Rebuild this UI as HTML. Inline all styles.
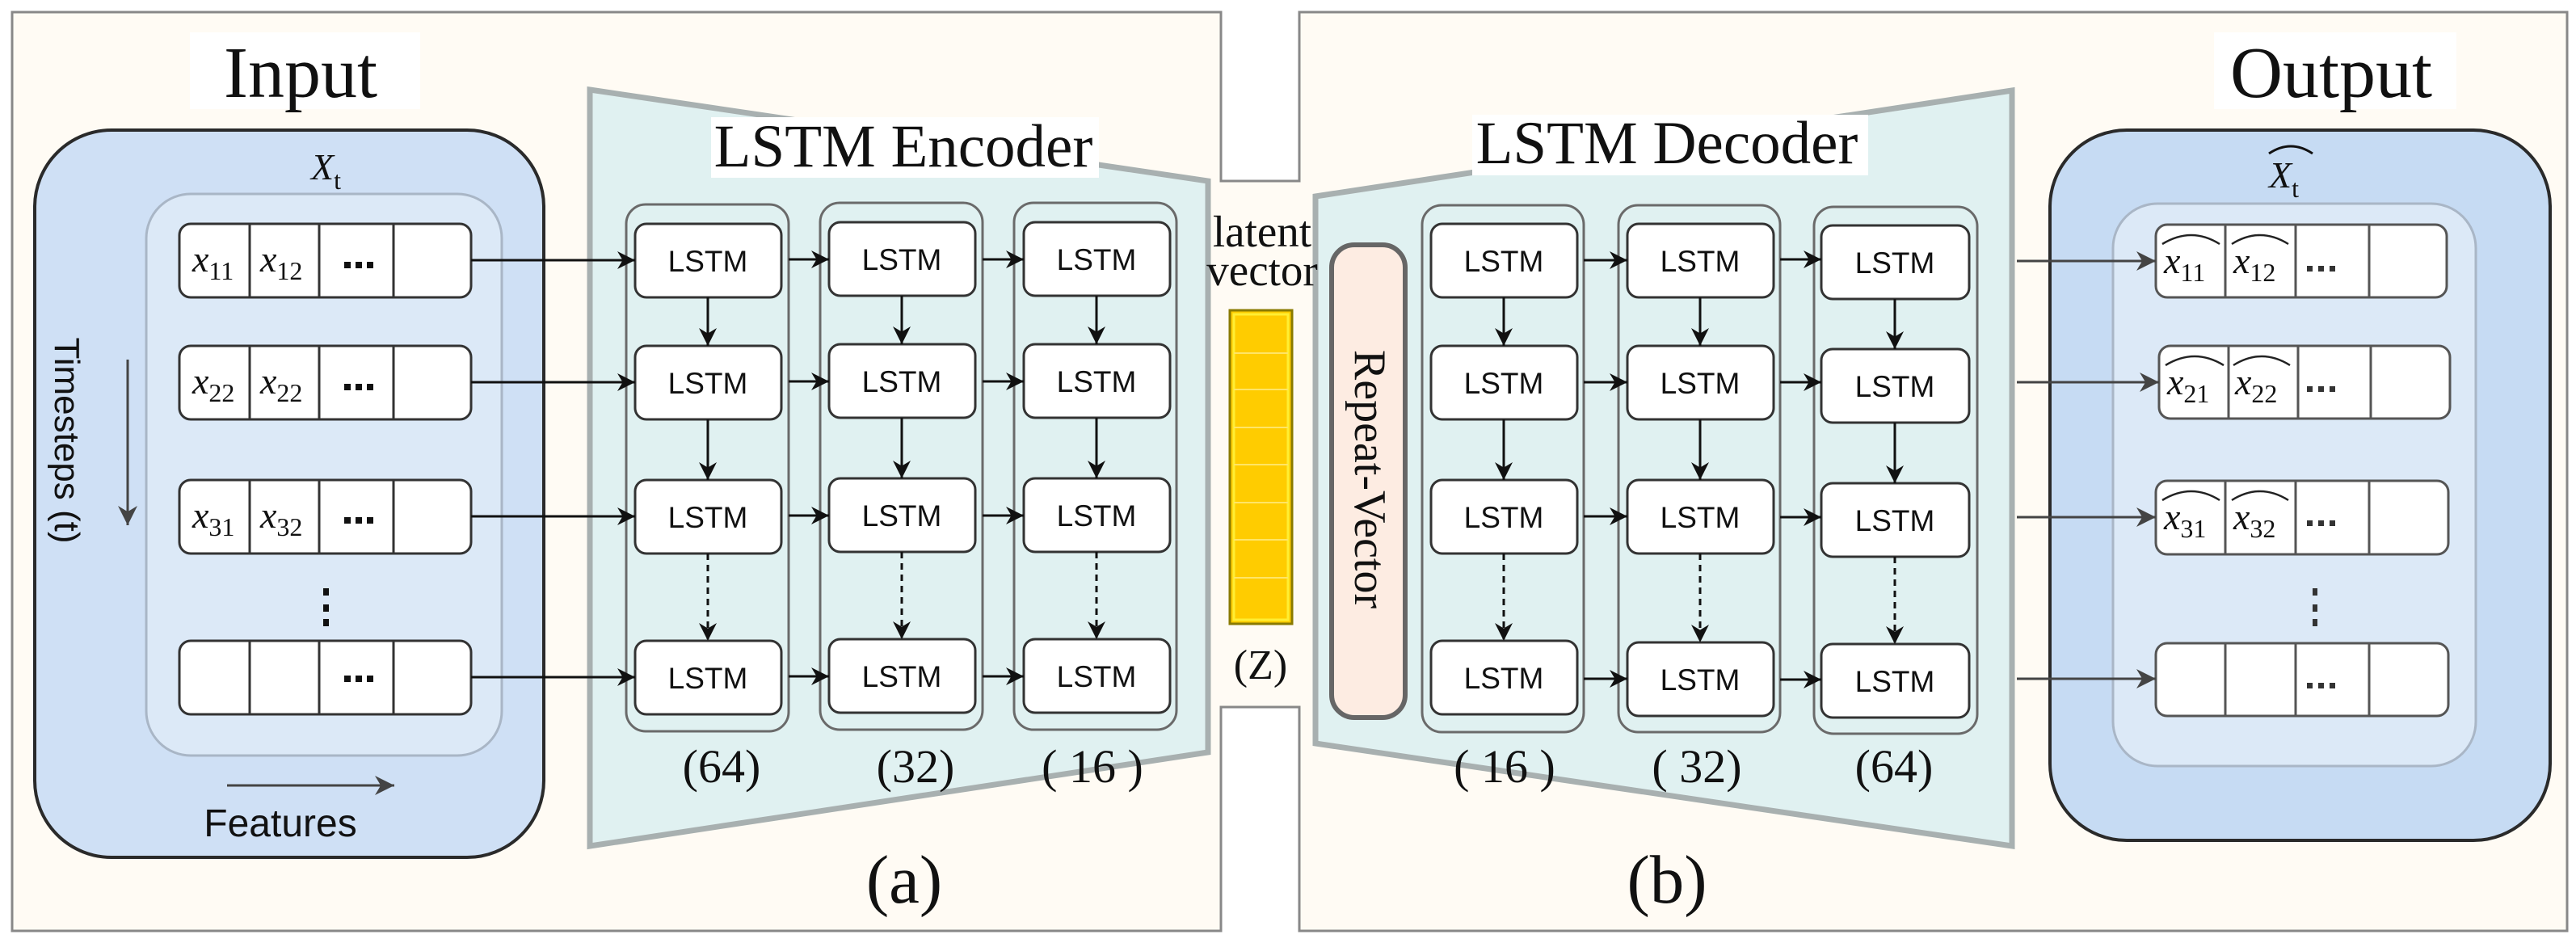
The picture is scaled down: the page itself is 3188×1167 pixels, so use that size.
<!DOCTYPE html>
<html><head><meta charset="utf-8"><style>
html,body{margin:0;padding:0;background:#fff;}
svg{display:block;}
.lstm{font-family:"Liberation Sans",sans-serif;font-size:37px;fill:#111;text-anchor:middle;}
.serif{font-family:"Liberation Serif",serif;fill:#111;}
.math{font-family:"Liberation Serif",serif;font-style:italic;font-size:46px;fill:#111;}
.sub{font-style:normal;font-size:32px;}
</style></head><body>
<svg width="3188" height="1167" viewBox="0 0 3188 1167" xmlns="http://www.w3.org/2000/svg">
<defs>
<marker id="ah" markerWidth="10" markerHeight="10" refX="9" refY="5" orient="auto" markerUnits="userSpaceOnUse" viewBox="0 0 10 10">
</marker>
<marker id="a" viewBox="0 0 10 10" refX="10" refY="5" markerWidth="22" markerHeight="22" markerUnits="userSpaceOnUse" orient="auto"><path d="M0,0 L10,5 L0,10 L3,5 z" fill="#111"/></marker>
<marker id="ag" viewBox="0 0 10 10" refX="10" refY="5" markerWidth="24" markerHeight="24" markerUnits="userSpaceOnUse" orient="auto"><path d="M0,0 L10,5 L0,10 L3,5 z" fill="#444"/></marker>
</defs>

<!-- panel frames -->
<path d="M15,15 H1511 V224 H1608 V15 H3177 V1152 H1608 V875 H1511 V1152 H15 Z" fill="#fffbf4" stroke="none"/>
<path d="M15,15 H1511 V224 H1608 V15 H3177 V1152 H1608 V875 H1511 V1152 H15 Z" fill="none" stroke="#888" stroke-width="3"/>

<!-- Input label -->
<rect x="235" y="40" width="285" height="95" fill="#fff"/>
<text x="372" y="120" class="serif" font-size="90" text-anchor="middle">Input</text>

<!-- Input box -->
<rect x="43" y="161" width="630" height="900" rx="95" fill="#cfe0f5" stroke="#2a2a2a" stroke-width="4"/>
<rect x="181" y="240" width="440" height="695" rx="55" fill="#dce9f7" stroke="#a9b6c6" stroke-width="3"/>
<text x="385" y="222" class="math" font-size="50">X<tspan class="sub" dy="12" font-style="italic" font-size="34">t</tspan></text>

<g stroke="#333" stroke-width="3" fill="#fff">
<rect x="222" y="277" width="361" height="91" rx="14"/>
<rect x="222" y="428" width="361" height="91" rx="14"/>
<rect x="222" y="594" width="361" height="91" rx="14"/>
<rect x="222" y="793" width="361" height="91" rx="14"/>
<path d="M309,277V368M395,277V368M487,277V368 M309,428V519M395,428V519M487,428V519 M309,594V685M395,594V685M487,594V685 M309,793V884M395,793V884M487,793V884" fill="none"/>
</g>
<text x="238" y="336" class="math">x<tspan class="sub" dy="10">11</tspan></text>
<text x="322" y="336" class="math">x<tspan class="sub" dy="10">12</tspan></text>
<text x="238" y="487" class="math">x<tspan class="sub" dy="10">22</tspan></text>
<text x="322" y="487" class="math">x<tspan class="sub" dy="10">22</tspan></text>
<text x="238" y="653" class="math">x<tspan class="sub" dy="10">31</tspan></text>
<text x="322" y="653" class="math">x<tspan class="sub" dy="10">32</tspan></text>
<g fill="#111">
<rect x="426" y="324" width="8" height="8"/><rect x="440" y="324" width="8" height="8"/><rect x="454" y="324" width="8" height="8"/>
<rect x="426" y="475" width="8" height="8"/><rect x="440" y="475" width="8" height="8"/><rect x="454" y="475" width="8" height="8"/>
<rect x="426" y="640" width="8" height="8"/><rect x="440" y="640" width="8" height="8"/><rect x="454" y="640" width="8" height="8"/>
<rect x="426" y="836" width="8" height="8"/><rect x="440" y="836" width="8" height="8"/><rect x="454" y="836" width="8" height="8"/>
<rect x="400" y="728" width="7" height="9"/><rect x="400" y="748" width="7" height="9"/><rect x="400" y="766" width="7" height="9"/>
</g>
<text transform="translate(68,545) rotate(90)" font-family="Liberation Sans,sans-serif" font-size="44" text-anchor="middle" fill="#111">Timesteps (t)</text>
<line x1="158" y1="445" x2="158" y2="650" stroke="#444" stroke-width="3" marker-end="url(#ag)"/>
<line x1="281" y1="972" x2="488" y2="972" stroke="#444" stroke-width="3" marker-end="url(#ag)"/>
<text x="347" y="1035" font-family="Liberation Sans,sans-serif" font-size="48" text-anchor="middle" fill="#111">Features</text>

<!-- Encoder trapezoid -->
<polygon points="730,111 1495,224 1495,931 730,1047" fill="#e0f1f1" stroke="#a8b0b0" stroke-width="7"/>
<rect x="880" y="145" width="480" height="75" fill="#fff"/>
<text x="1118" y="206" class="serif" font-size="75" text-anchor="middle">LSTM Encoder</text>

<!-- Decoder trapezoid -->
<polygon points="1628,243 2490,112 2490,1047 1628,920" fill="#e0f1f1" stroke="#a8b0b0" stroke-width="7"/>
<rect x="1822" y="142" width="490" height="75" fill="#fff"/>
<text x="2063" y="202" class="serif" font-size="75" text-anchor="middle">LSTM Decoder</text>

<!-- columns -->
<g fill="none" stroke="#6a6a6a" stroke-width="3">
<rect x="775" y="253" width="201" height="652" rx="24"/>
<rect x="1015" y="251" width="201" height="652" rx="24"/>
<rect x="1255" y="251" width="201" height="652" rx="24"/>
<rect x="1760" y="254" width="200" height="652" rx="24"/>
<rect x="2003" y="254" width="200" height="652" rx="24"/>
<rect x="2245" y="256" width="202" height="652" rx="24"/>
</g>

<!-- LSTM boxes -->
<g fill="#fff" stroke="#333" stroke-width="3">
<rect x="786" y="277" width="181" height="91" rx="14"/><rect x="786" y="428" width="181" height="91" rx="14"/><rect x="786" y="594" width="181" height="91" rx="14"/><rect x="786" y="793" width="181" height="91" rx="14"/>
<rect x="1026" y="275" width="181" height="91" rx="14"/><rect x="1026" y="426" width="181" height="91" rx="14"/><rect x="1026" y="592" width="181" height="91" rx="14"/><rect x="1026" y="791" width="181" height="91" rx="14"/>
<rect x="1267" y="275" width="181" height="91" rx="14"/><rect x="1267" y="426" width="181" height="91" rx="14"/><rect x="1267" y="592" width="181" height="91" rx="14"/><rect x="1267" y="791" width="181" height="91" rx="14"/>
<rect x="1771" y="277" width="181" height="91" rx="14"/><rect x="1771" y="428" width="181" height="91" rx="14"/><rect x="1771" y="594" width="181" height="91" rx="14"/><rect x="1771" y="793" width="181" height="91" rx="14"/>
<rect x="2014" y="277" width="181" height="91" rx="14"/><rect x="2014" y="428" width="181" height="91" rx="14"/><rect x="2014" y="594" width="181" height="91" rx="14"/><rect x="2014" y="795" width="181" height="91" rx="14"/>
<rect x="2254" y="279" width="183" height="91" rx="14"/><rect x="2254" y="432" width="183" height="91" rx="14"/><rect x="2254" y="598" width="183" height="91" rx="14"/><rect x="2254" y="797" width="183" height="91" rx="14"/>
</g>
<g class="lstm">
<text x="876" y="336">LSTM</text><text x="876" y="487">LSTM</text><text x="876" y="653">LSTM</text><text x="876" y="852">LSTM</text>
<text x="1116" y="334">LSTM</text><text x="1116" y="485">LSTM</text><text x="1116" y="651">LSTM</text><text x="1116" y="850">LSTM</text>
<text x="1357" y="334">LSTM</text><text x="1357" y="485">LSTM</text><text x="1357" y="651">LSTM</text><text x="1357" y="850">LSTM</text>
<text x="1861" y="336">LSTM</text><text x="1861" y="487">LSTM</text><text x="1861" y="653">LSTM</text><text x="1861" y="852">LSTM</text>
<text x="2104" y="336">LSTM</text><text x="2104" y="487">LSTM</text><text x="2104" y="653">LSTM</text><text x="2104" y="854">LSTM</text>
<text x="2345" y="338">LSTM</text><text x="2345" y="491">LSTM</text><text x="2345" y="657">LSTM</text><text x="2345" y="856">LSTM</text>
</g>

<!-- arrows -->
<g stroke="#111" stroke-width="3" marker-end="url(#a)">
<line x1="583" y1="322" x2="786" y2="322"/><line x1="583" y1="473" x2="786" y2="473"/><line x1="583" y1="639" x2="786" y2="639"/><line x1="583" y1="838" x2="786" y2="838"/>
<line x1="976" y1="321" x2="1026" y2="321"/><line x1="976" y1="472" x2="1026" y2="472"/><line x1="976" y1="638" x2="1026" y2="638"/><line x1="976" y1="837" x2="1026" y2="837"/>
<line x1="1216" y1="321" x2="1267" y2="321"/><line x1="1216" y1="472" x2="1267" y2="472"/><line x1="1216" y1="638" x2="1267" y2="638"/><line x1="1216" y1="837" x2="1267" y2="837"/>
<line x1="1960" y1="322" x2="2014" y2="322"/><line x1="1960" y1="473" x2="2014" y2="473"/><line x1="1960" y1="639" x2="2014" y2="639"/><line x1="1960" y1="840" x2="2014" y2="840"/>
<line x1="2203" y1="321" x2="2254" y2="321"/><line x1="2203" y1="473" x2="2254" y2="473"/><line x1="2203" y1="640" x2="2254" y2="640"/><line x1="2203" y1="841" x2="2254" y2="841"/>
<line x1="876" y1="368" x2="876" y2="428"/><line x1="876" y1="519" x2="876" y2="594"/>
<line x1="1116" y1="366" x2="1116" y2="426"/><line x1="1116" y1="517" x2="1116" y2="592"/>
<line x1="1357" y1="366" x2="1357" y2="426"/><line x1="1357" y1="517" x2="1357" y2="592"/>
<line x1="1861" y1="368" x2="1861" y2="428"/><line x1="1861" y1="519" x2="1861" y2="594"/>
<line x1="2104" y1="368" x2="2104" y2="428"/><line x1="2104" y1="519" x2="2104" y2="594"/>
<line x1="2345" y1="370" x2="2345" y2="432"/><line x1="2345" y1="523" x2="2345" y2="598"/>
</g>
<g stroke="#111" stroke-width="3" stroke-dasharray="8,6" marker-end="url(#a)">
<line x1="876" y1="685" x2="876" y2="793"/><line x1="1116" y1="683" x2="1116" y2="791"/><line x1="1357" y1="683" x2="1357" y2="791"/>
<line x1="1861" y1="685" x2="1861" y2="793"/><line x1="2104" y1="685" x2="2104" y2="795"/><line x1="2345" y1="689" x2="2345" y2="797"/>
</g>

<!-- col labels -->
<g class="serif" font-size="58" text-anchor="middle">
<text x="893" y="968">(64)</text><text x="1133" y="968">(32)</text><text x="1352" y="968">( 16 )</text>
<text x="1862" y="968">( 16 )</text><text x="2100" y="968">( 32)</text><text x="2344" y="968">(64)</text>
</g>
<text x="1119" y="1117" class="serif" font-size="85" text-anchor="middle">(a)</text>
<text x="2063" y="1117" class="serif" font-size="85" text-anchor="middle">(b)</text>

<!-- latent -->
<text x="1562" y="305" class="serif" font-size="55" text-anchor="middle">latent</text>
<text x="1562" y="353" class="serif" font-size="55" text-anchor="middle">vector</text>
<rect x="1522" y="384" width="77" height="388" fill="#ffcc00" stroke="#8a7a00" stroke-width="3"/>
<rect x="1527" y="389" width="67" height="378" fill="none" stroke="#ffee33" stroke-width="3"/>
<g stroke="#ffe566" stroke-width="2">
<line x1="1527" y1="437" x2="1594" y2="437"/><line x1="1527" y1="482" x2="1594" y2="482"/><line x1="1527" y1="529" x2="1594" y2="529"/><line x1="1527" y1="575" x2="1594" y2="575"/><line x1="1527" y1="622" x2="1594" y2="622"/><line x1="1527" y1="668" x2="1594" y2="668"/><line x1="1527" y1="715" x2="1594" y2="715"/>
</g>
<text x="1560" y="840" class="serif" font-size="52" text-anchor="middle">(Z)</text>

<!-- Repeat vector -->
<rect x="1648" y="303" width="91" height="585" rx="28" fill="#fdece2" stroke="#666" stroke-width="6"/>
<text transform="translate(1677,593) rotate(90)" class="serif" font-size="56" text-anchor="middle">Repeat-Vector</text>

<!-- Output -->
<rect x="2740" y="40" width="300" height="95" fill="#fff"/>
<text x="2885" y="120" class="serif" font-size="90" text-anchor="middle">Output</text>
<rect x="2537" y="161" width="619" height="879" rx="95" fill="#c6dbf3" stroke="#2a2a2a" stroke-width="4"/>
<rect x="2615" y="252" width="449" height="696" rx="55" fill="#dce9f7" stroke="#a9b6c6" stroke-width="3"/>
<text x="2808" y="232" class="math" font-size="50">X<tspan class="sub" dy="12" font-style="italic" font-size="34">t</tspan></text>
<path d="M2808,190 Q2835,172 2862,190" fill="none" stroke="#111" stroke-width="3"/>

<g stroke="#555" stroke-width="3" fill="#fff">
<rect x="2668" y="278" width="360" height="90" rx="14"/>
<rect x="2672" y="428" width="360" height="90" rx="14"/>
<rect x="2668" y="595" width="362" height="91" rx="14"/>
<rect x="2668" y="796" width="362" height="90" rx="14"/>
<path d="M2754,278V368M2841,278V368M2932,278V368 M2758,428V518M2844,428V518M2934,428V518 M2754,595V686M2841,595V686M2932,595V686 M2754,796V886M2841,796V886M2932,796V886" fill="none"/>
</g>
<text x="2678" y="338" class="math">x<tspan class="sub" dy="10">11</tspan></text>
<text x="2764" y="338" class="math">x<tspan class="sub" dy="10">12</tspan></text>
<text x="2682" y="488" class="math">x<tspan class="sub" dy="10">21</tspan></text>
<text x="2766" y="488" class="math">x<tspan class="sub" dy="10">22</tspan></text>
<text x="2678" y="655" class="math">x<tspan class="sub" dy="10">31</tspan></text>
<text x="2764" y="655" class="math">x<tspan class="sub" dy="10">32</tspan></text>
<g fill="none" stroke="#222" stroke-width="2.5">
<path d="M2676,302 Q2712,280 2747,302"/><path d="M2762,302 Q2797,280 2832,302"/>
<path d="M2680,452 Q2716,430 2752,452"/><path d="M2764,452 Q2799,430 2834,452"/>
<path d="M2676,619 Q2712,597 2747,619"/><path d="M2762,619 Q2797,597 2832,619"/>
</g>
<g fill="#333">
<rect x="2855" y="329" width="7" height="7"/><rect x="2869" y="329" width="7" height="7"/><rect x="2883" y="329" width="7" height="7"/>
<rect x="2855" y="478" width="7" height="7"/><rect x="2869" y="478" width="7" height="7"/><rect x="2883" y="478" width="7" height="7"/>
<rect x="2855" y="644" width="7" height="7"/><rect x="2869" y="644" width="7" height="7"/><rect x="2883" y="644" width="7" height="7"/>
<rect x="2855" y="845" width="7" height="7"/><rect x="2869" y="845" width="7" height="7"/><rect x="2883" y="845" width="7" height="7"/>
<rect x="2862" y="728" width="6" height="9"/><rect x="2862" y="748" width="6" height="9"/><rect x="2862" y="766" width="6" height="9"/>
</g>
<g stroke="#444" stroke-width="3" marker-end="url(#ag)">
<line x1="2496" y1="323" x2="2668" y2="323"/><line x1="2496" y1="473" x2="2672" y2="473"/><line x1="2496" y1="640" x2="2668" y2="640"/><line x1="2496" y1="840" x2="2668" y2="840"/>
</g>
</svg>
</body></html>
